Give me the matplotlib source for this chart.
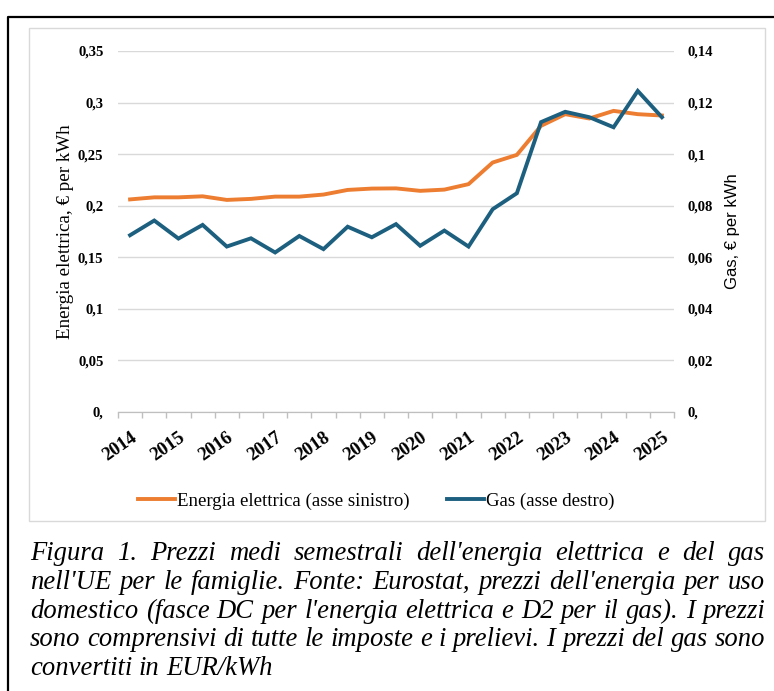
import matplotlib.pyplot as plt
from matplotlib.lines import Line2D
from matplotlib.patches import Rectangle
from matplotlib.transforms import ScaledTranslation

# semestri 2014S1 ... 2025S1
anni = ['2014', '2015', '2016', '2017', '2018', '2019', '2020', '2021', '2022', '2023', '2024', '2025']
energia = [0.206, 0.208, 0.208, 0.209, 0.2055, 0.2065, 0.2087, 0.2087, 0.2107, 0.2152, 0.2165, 0.2167,
           0.2143, 0.2155, 0.2208, 0.2418, 0.2492, 0.2774, 0.2887, 0.2845, 0.2919, 0.2887, 0.2874]
gas = [0.0685, 0.0742, 0.0672, 0.0725, 0.0641, 0.0673, 0.0618, 0.0682, 0.0631, 0.0718, 0.0677, 0.0728,
       0.0644, 0.0703, 0.0641, 0.0786, 0.0848, 0.1124, 0.1164, 0.1143, 0.1104, 0.1245, 0.1143]
sx_ticks = [0, 0.05, 0.1, 0.15, 0.2, 0.25, 0.3, 0.35]
sx_labels = ['0,', '0,05', '0,1', '0,15', '0,2', '0,25', '0,3', '0,35']
dx_ticks = [0, 0.02, 0.04, 0.06, 0.08, 0.1, 0.12, 0.14]
dx_labels = ['0,', '0,02', '0,04', '0,06', '0,08', '0,1', '0,12', '0,14']
didascalia = [
    "Figura 1. Prezzi medi semestrali dell'energia elettrica e del gas",
    "nell'UE per le famiglie. Fonte: Eurostat, prezzi dell'energia per uso",
    "domestico (fasce DC per l'energia elettrica e D2 per il gas). I prezzi",
    "sono comprensivi di tutte le imposte e i prelievi. I prezzi del gas sono",
    "convertiti in EUR/kWh",
]

W, H = 774, 691
arancio = '#ED7D31'
blu = '#1C5F7E'
serif = 'Liberation Serif'

fig = plt.figure(figsize=(W / 100, H / 100), dpi=100)

# cornice esterna e bordo del grafico
fig.add_artist(Line2D([8 / W, 8 / W, 1.0], [0.0, 1 - 16.5 / H, 1 - 16.5 / H], color='black', lw=1.6,
                      transform=fig.transFigure))
fig.add_artist(Rectangle((29 / W, 1 - 521 / H), (765 - 29) / W, (521 - 28) / H, fill=False,
                         edgecolor='#d9d9d9', lw=1, transform=fig.transFigure))

ax = fig.add_axes([118 / W, 1 - 411.7 / H, (674 - 118) / W, (411.7 - 51) / H])
ax2 = ax.twinx()

x = list(range(len(energia)))
ax.plot(x, energia, color=arancio, lw=2.8, solid_joinstyle='miter', zorder=3)
ax2.plot(x, gas, color=blu, lw=2.8, solid_joinstyle='miter', zorder=3)

ax.set_xlim(-0.5, len(energia) - 0.5)
ax.set_ylim(0, 0.35)
ax2.set_ylim(0, 0.14)

ax.set_yticks(sx_ticks)
ax.set_yticklabels(sx_labels, fontfamily=serif, fontweight='bold', fontsize=10.5)
ax2.set_yticks(dx_ticks)
ax2.set_yticklabels(dx_labels, fontfamily=serif, fontweight='bold', fontsize=10.5)
ax.tick_params(axis='y', length=0, pad=10.5)
ax2.tick_params(axis='y', length=0, pad=9.5)
ax.grid(axis='y', color='#d9d9d9', lw=1)
ax.set_axisbelow(True)

ax.set_xticks(range(0, len(energia), 2))
ax.set_xticklabels(anni, fontfamily=serif, fontweight='bold', fontsize=13.5, rotation=35,
                   ha='right', va='top', rotation_mode='anchor')
sposta = ScaledTranslation(-4 / 100, 0, fig.dpi_scale_trans)
for lab in ax.get_xticklabels():
    lab.set_transform(lab.get_transform() + sposta)
ax.set_xticks([i - 0.5 for i in range(len(energia) + 1)], minor=True)
ax.tick_params(axis='x', which='major', length=0, pad=12.5)
ax.tick_params(axis='x', which='minor', length=4, color='#bfbfbf', width=1)

for a in (ax, ax2):
    for s in ('top', 'left', 'right'):
        a.spines[s].set_visible(False)
    a.spines['bottom'].set_color('#bfbfbf')

ax.set_ylabel('Energia elettrica, € per kWh', fontfamily=serif, fontsize=13.7)
ax.yaxis.set_label_coords((74 - 118) / (674 - 118), 0.5)
ax2.set_ylabel('Gas, € per kWh', fontfamily='Liberation Sans', fontsize=12)
ax2.yaxis.set_label_coords((725 - 118) / (674 - 118), 0.5)

handles = [Line2D([], [], color=arancio, lw=2.8), Line2D([], [], color=blu, lw=2.8)]
fig.legend(handles, ['Energia elettrica (asse sinistro)', 'Gas (asse destro)'], loc='center',
           bbox_to_anchor=(376 / W, 1 - 501 / H), ncol=2, frameon=False,
           prop={'family': serif, 'size': 13.6}, handlelength=1.95, handletextpad=0.1, columnspacing=2.0)

# didascalia giustificata, parola per parola
renderer = fig.canvas.get_renderer()
x0, x1 = 30, 765
prova = [fig.text(0, 0, r, fontfamily=serif, fontstyle='italic', fontsize=18) for r in didascalia[:-1]]
piu_lunga = max(t.get_window_extent(renderer).width for t in prova)
for t in prova:
    t.remove()
size = 18 * (x1 - x0) / piu_lunga
spazio = fig.text(0, 0, 'a a', fontfamily=serif, fontstyle='italic', fontsize=size)
aa = fig.text(0, 0, 'aa', fontfamily=serif, fontstyle='italic', fontsize=size)
largh_spazio = spazio.get_window_extent(renderer).width - aa.get_window_extent(renderer).width
spazio.remove()
aa.remove()

for n, riga in enumerate(didascalia):
    y = 1 - (560 + 28.8 * n) / H
    parole = riga.split(' ')
    testi = [fig.text(0, y, p, fontfamily=serif, fontstyle='italic', fontsize=size, va='baseline')
             for p in parole]
    larghezze = [t.get_window_extent(renderer).width for t in testi]
    if n < len(didascalia) - 1:
        gap = (x1 - x0 - sum(larghezze)) / (len(parole) - 1)
    else:
        gap = largh_spazio
    pos = x0
    for t, w in zip(testi, larghezze):
        t.set_x(pos / W)
        pos += w + gap

fig.savefig('out.png', dpi=100)
